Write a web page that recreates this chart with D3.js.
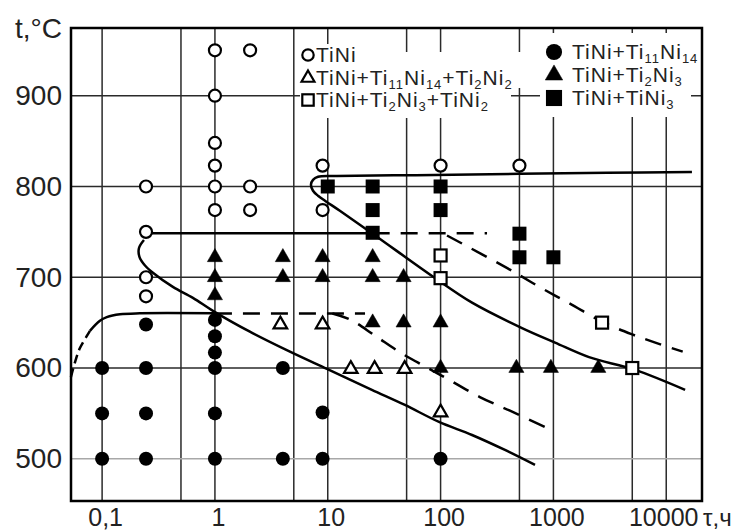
<!DOCTYPE html>
<html><head><meta charset="utf-8">
<script src="https://cdn.jsdelivr.net/npm/d3@7"></script>
<style>body{margin:0;background:#fff} svg{display:block}</style>
</head><body><svg id="c" width="744" height="530"></svg>
<script>
// ---------- data ----------
const xTicks = [0.1, 1, 10, 100, 1000, 10000];
const xTickLabels = ["0,1", "1", "10", "100", "1000", "10000"];
const xGrid = [0.1, 0.5, 1, 5, 10, 50, 100, 500, 1000, 5000, 10000];
const yTicks = [500, 600, 700, 800, 900];
const yTickLabels = ["500", "600", "700", "800", "900"];
const yTitle = "t,°C";
const xTitle = "τ,ч";

// TiNi (open circles)
const tiNi = [[0.245,800],[0.245,750],[0.245,700],[0.245,679],[1,950],[1,900],[1,848],[1,823],[1,800],[1,774],
  [2.05,950],[2.05,800],[2.05,774],[9,823],[9,774],[100,823],[500,823]];
// TiNi+Ti11Ni14 (filled circles)
const tiNi_Ti11Ni14 = [[0.1,600],[0.1,550],[0.1,500],[0.245,648],[0.245,600],[0.245,550],[0.245,500],
  [1,653],[1,635],[1,617],[1,600],[1,550],[1,500],[4,600],[4,500],[9,551],[9,500],[100,500]];
// TiNi+Ti11Ni14+Ti2Ni2 (open triangles)
const tiNi_Ti11Ni14_Ti2Ni2 = [[3.8,648],[9,648],[16,599],[26,599],[48,599],[100,551]];
// TiNi+Ti2Ni3 (filled triangles)
const tiNi_Ti2Ni3 = [[1,722],[1,700],[1,680],[4,722],[4,700],[9,722],[9,700],[25,722],[25,700],[47,700],
  [25,650],[47,650],[100,650],[100,600],[470,600],[950,600],[2500,600]];
// TiNi+Ti2Ni3+TiNi2 (open squares)
const tiNi_Ti2Ni3_TiNi2 = [[100,724],[100,699],[2700,650],[5000,600]];
// TiNi+TiNi3 (filled squares)
const tiNi_TiNi3 = [[10,800],[25,800],[25,774],[25,749],[100,800],[100,774],[500,748],[500,722],[1000,722]];

// boundary curves
const curveUpper = [[16900,816],[3000,815],[500,814],[60,812.5],[12,811.5],[8.2,810.7],[7.4,807.3],[7.1,802],
  [7.4,795.3],[8.2,789.8],[9.45,784.3],[12.8,773.2],[25,748],[86,700.5],[190,672],[527,644],[1034,628],
  [2070,612],[5290,598],[14700,576]];
const line750Solid = [[0.245,748.5],[25,748.5]];
const line750Dashed = [[25,748.5],[258,748.5]];
const curve750Dashed = [[114,746],[390,710],[760,689],[1400,671],[2700,651],[5000,637],[8000,628],[14000,618]];
const curve660DashedLeft = [[0.0529,590],[0.058,608],[0.0636,622],[0.0733,635.4],[0.078,641]];
const curve660Solid = [[0.078,641],[0.0956,652],[0.110,656],[0.144,659.2],[0.216,660.3],[1,660.3]];
const line660Dashed = [[1,660],[21.4,660]];
const curve660Dashed = [[11,660],[16,653],[26,636],[44,617],[72,602],[101,592],[223,568],[412,553],[843,535]];
const curveLower = [[0.235,741],[0.212,732],[0.215,722],[0.24,713],[0.282,705],[0.424,689.4],[0.638,677.3],
  [0.96,663],[2.04,640],[4.62,618],[9.84,599],[24.6,576],[48.3,559.3],[96.8,540.6],[190,526.2],[372,509.7],[687,493.2]];

const legendLeft = [
  {label: "TiNi", sym: "circle", filled: false},
  {label: "TiNi+Ti_{11}Ni_{14}+Ti_{2}Ni_{2}", sym: "triangle", filled: false},
  {label: "TiNi+Ti_{2}Ni_{3}+TiNi_{2}", sym: "square", filled: false}
];
const legendRight = [
  {label: "TiNi+Ti_{11}Ni_{14}", sym: "circle", filled: true},
  {label: "TiNi+Ti_{2}Ni_{3}", sym: "triangle", filled: true},
  {label: "TiNi+TiNi_{3}", sym: "square", filled: true}
];

// ---------- layout ----------
const X0 = 71, X1 = 702, Y0 = 28, Y1 = 501;
const FONT = "'Liberation Sans', Arial, Helvetica, sans-serif";
const svg = d3.select("#c").attr("font-family", FONT);
const x = d3.scaleLog().domain([0.053, 20750]).range([X0, X1]);
const y = d3.scaleLinear().domain([453.5, 974.6]).range([Y1, Y0]);

// grid
svg.append("g").selectAll("line").data(xGrid).join("line")
  .attr("x1", d => x(d)).attr("x2", d => x(d)).attr("y1", Y0).attr("y2", Y1)
  .attr("stroke", "#2a2a2a").attr("stroke-width", 1.5);
svg.append("g").selectAll("line").data(yTicks).join("line")
  .attr("x1", X0).attr("x2", X1).attr("y1", d => y(d)).attr("y2", d => y(d))
  .attr("stroke", d => d === 500 ? "#a8a8a8" : "#2a2a2a").attr("stroke-width", 1.5);

// legend masks
const masks = [
  [300, 44, 54, 22], [300, 52, 221, 36], [300, 88, 211, 30], [540, 33, 151, 84]
];
svg.append("g").selectAll("rect").data(masks).join("rect")
  .attr("x", d => d[0]).attr("y", d => d[1]).attr("width", d => d[2]).attr("height", d => d[3])
  .attr("fill", "#fff");

// curves
const line = d3.line().x(d => x(d[0])).y(d => y(d[1])).curve(d3.curveCatmullRom.alpha(0.5));
const curves = [
  [curveUpper, null], [line750Solid, null], [line750Dashed, "17,11"], [curve750Dashed, "17,11"],
  [curve660DashedLeft, "9,5"], [curve660Solid, null], [line660Dashed, "17,11"], [curve660Dashed, "17,11"],
  [curveLower, null]
];
svg.append("g").selectAll("path").data(curves).join("path")
  .attr("d", d => line(d[0])).attr("fill", "none").attr("stroke", "#000")
  .attr("stroke-width", 2.5).attr("stroke-dasharray", d => d[1]);

// markers
function marker(sel, sym, filled, scale) {
  const k = scale || 1;
  if (sym === "circle") {
    sel.append("circle").attr("r", (filled ? 7 : 6) * k)
      .attr("fill", filled ? "#000" : "#fff").attr("stroke", "#000").attr("stroke-width", filled ? 0 : 2.2);
  } else if (sym === "triangle") {
    sel.append("path").attr("d", d3.symbol(d3.symbolTriangle, (filled ? 100 : 80) * k * k)())
      .attr("fill", filled ? "#000" : "#fff").attr("stroke", "#000").attr("stroke-width", filled ? 0.5 : 2.2);
  } else {
    const s = (filled ? 14 : 12) * k;
    sel.append("rect").attr("x", -s / 2).attr("y", -s / 2).attr("width", s).attr("height", s)
      .attr("fill", filled ? "#000" : "#fff").attr("stroke", "#000").attr("stroke-width", filled ? 0 : 2.2);
  }
}
const series = [
  [tiNi, "circle", false], [tiNi_Ti11Ni14, "circle", true],
  [tiNi_Ti11Ni14_Ti2Ni2, "triangle", false], [tiNi_Ti2Ni3, "triangle", true],
  [tiNi_Ti2Ni3_TiNi2, "square", false], [tiNi_TiNi3, "square", true]
];
series.forEach(([data, sym, filled]) => {
  svg.append("g").selectAll("g").data(data).join("g")
    .attr("transform", d => `translate(${x(d[0])},${y(d[1])})`)
    .each(function () { marker(d3.select(this), sym, filled); });
});

// frame
svg.append("rect").attr("x", X0).attr("y", Y0).attr("width", X1 - X0).attr("height", Y1 - Y0)
  .attr("fill", "none").attr("stroke", "#000").attr("stroke-width", 2.5);

// axes
const ax = svg.append("g").attr("transform", `translate(0,${Y1})`)
  .call(d3.axisBottom(x).tickValues(xTicks).tickFormat((d, i) => xTickLabels[i]).tickSize(0).tickPadding(7));
ax.select(".domain").remove();
const nX = xTicks.length;
ax.selectAll("text").attr("font-size", 25).attr("font-family", FONT).attr("fill", "#222")
  .attr("dx", (d, i) => i === nX - 1 ? -3 : 3);
const ay = svg.append("g").attr("transform", `translate(${X0},0)`)
  .call(d3.axisLeft(y).tickValues(yTicks).tickFormat((d, i) => yTickLabels[i]).tickSize(0).tickPadding(9));
ay.select(".domain").remove();
ay.selectAll("text").attr("font-size", 28).attr("font-family", FONT).attr("fill", "#222");

svg.append("text").attr("x", 62).attr("y", 38).attr("text-anchor", "end")
  .attr("font-size", 28).attr("fill", "#222").text(yTitle);
svg.append("text").attr("x", 703).attr("y", 526).attr("text-anchor", "start")
  .attr("font-size", 24).attr("fill", "#222").text(xTitle);

// legends
function addLabel(sel, label, fs, sfs) {
  const parts = label.split(/_\{([^}]*)\}/);
  let shifted = false;
  parts.forEach((p, i) => {
    if (!p) return;
    const sub = i % 2 === 1;
    const t = sel.append("tspan").text(p).attr("font-size", sub ? sfs : fs);
    if (sub && !shifted) { t.attr("dy", 4); shifted = true; }
    else if (!sub && shifted) { t.attr("dy", -4); shifted = false; }
  });
}
function drawLegend(items, mx, tx, rows, k) {
  items.forEach((it, i) => {
    const g = svg.append("g");
    marker(g.append("g").attr("transform", `translate(${mx},${rows[i]})`), it.sym, it.filled, k);
    const t = g.append("text").attr("x", tx).attr("y", rows[i] + 7).attr("fill", "#222")
      .attr("letter-spacing", 1);
    addLabel(t, it.label, 21, 13);
  });
}
drawLegend(legendLeft, 308, 316, [55, 78, 100], 0.95);
drawLegend(legendRight, 554, 572, [52, 75, 98], 1.15);
</script></body></html>
